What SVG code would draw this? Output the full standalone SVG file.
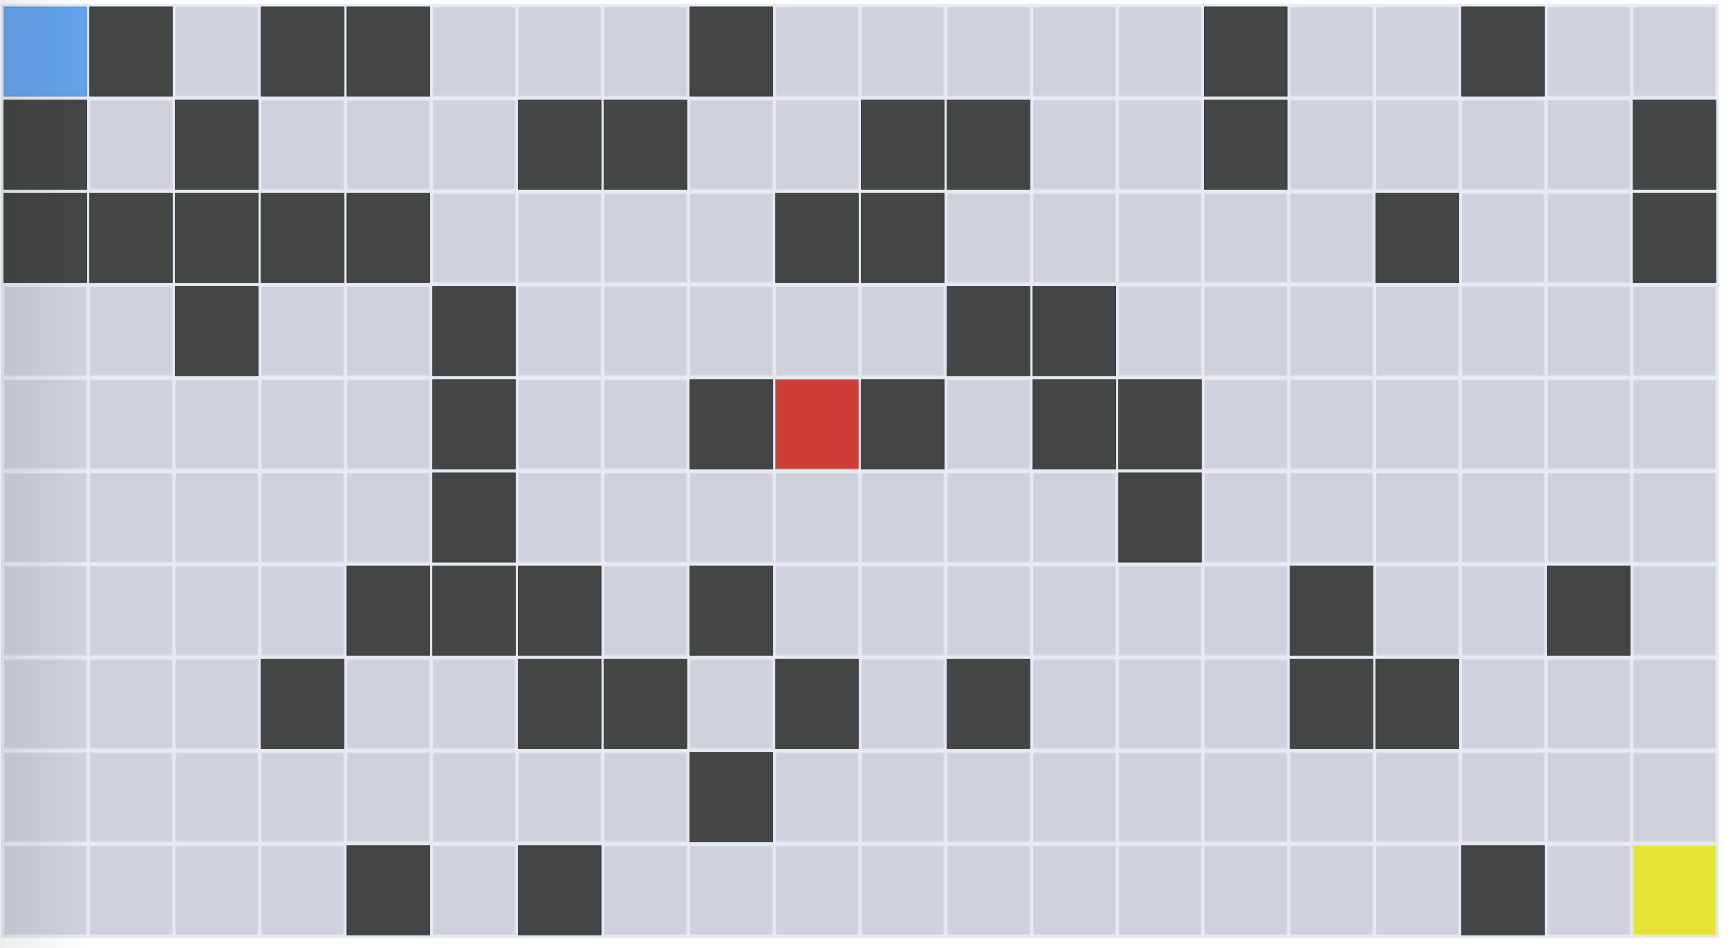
<svg xmlns="http://www.w3.org/2000/svg" width="1730" height="948" viewBox="0 0 1730 948">
<style>
.d{fill:#444645;stroke:#393b3a;stroke-width:1}
.s{fill:#64a4ec;stroke:#5a98e0;stroke-width:1}
.r{fill:#cc3d36;stroke:#d85a52;stroke-width:1}
.y{fill:#e6e336;stroke:#ebe860;stroke-width:1}
</style>
<defs>
<pattern id="cells" patternUnits="userSpaceOnUse" x="4" y="7" width="85.75" height="93.2">
<rect x="0" y="0" width="82.5" height="89" fill="#cfd2dc" stroke="#d8dde6" stroke-width="1"/>
</pattern>
<linearGradient id="shade" x1="0" y1="0" x2="1" y2="0">
<stop offset="0" stop-color="#000" stop-opacity="0.07"/>
<stop offset="1" stop-color="#000" stop-opacity="0"/>
</linearGradient>
</defs>
<rect width="1730" height="948" fill="#ffffff"/>
<rect x="1" y="4" width="1718" height="934" fill="#e4ecf4"/>
<rect x="4" y="7" width="1712" height="928" fill="url(#cells)"/>
<g id="walls">
<!-- row 0 -->
<rect class="d" x="89.75" y="7" width="82.5" height="89"/>
<rect class="d" x="261.25" y="7" width="82.5" height="89"/>
<rect class="d" x="347" y="7" width="82.5" height="89"/>
<rect class="d" x="690" y="7" width="82.5" height="89"/>
<rect class="d" x="1204.5" y="7" width="82.5" height="89"/>
<rect class="d" x="1461.75" y="7" width="82.5" height="89"/>
<!-- row 1 -->
<rect class="d" x="4" y="100.2" width="82.5" height="89"/>
<rect class="d" x="175.5" y="100.2" width="82.5" height="89"/>
<rect class="d" x="518.5" y="100.2" width="82.5" height="89"/>
<rect class="d" x="604.25" y="100.2" width="82.5" height="89"/>
<rect class="d" x="861.5" y="100.2" width="82.5" height="89"/>
<rect class="d" x="947.25" y="100.2" width="82.5" height="89"/>
<rect class="d" x="1204.5" y="100.2" width="82.5" height="89"/>
<rect class="d" x="1633.25" y="100.2" width="82.5" height="89"/>
<!-- row 2 -->
<rect class="d" x="4" y="193.4" width="82.5" height="89"/>
<rect class="d" x="89.75" y="193.4" width="82.5" height="89"/>
<rect class="d" x="175.5" y="193.4" width="82.5" height="89"/>
<rect class="d" x="261.25" y="193.4" width="82.5" height="89"/>
<rect class="d" x="347" y="193.4" width="82.5" height="89"/>
<rect class="d" x="775.75" y="193.4" width="82.5" height="89"/>
<rect class="d" x="861.5" y="193.4" width="82.5" height="89"/>
<rect class="d" x="1376" y="193.4" width="82.5" height="89"/>
<rect class="d" x="1633.25" y="193.4" width="82.5" height="89"/>
<!-- row 3 -->
<rect class="d" x="175.5" y="286.6" width="82.5" height="89"/>
<rect class="d" x="432.75" y="286.6" width="82.5" height="89"/>
<rect class="d" x="947.25" y="286.6" width="82.5" height="89"/>
<rect class="d" x="1033" y="286.6" width="82.5" height="89"/>
<!-- row 4 -->
<rect class="d" x="432.75" y="379.8" width="82.5" height="89"/>
<rect class="d" x="690" y="379.8" width="82.5" height="89"/>
<rect class="d" x="861.5" y="379.8" width="82.5" height="89"/>
<rect class="d" x="1033" y="379.8" width="82.5" height="89"/>
<rect class="d" x="1118.75" y="379.8" width="82.5" height="89"/>
<!-- row 5 -->
<rect class="d" x="432.75" y="473" width="82.5" height="89"/>
<rect class="d" x="1118.75" y="473" width="82.5" height="89"/>
<!-- row 6 -->
<rect class="d" x="347" y="566.2" width="82.5" height="89"/>
<rect class="d" x="432.75" y="566.2" width="82.5" height="89"/>
<rect class="d" x="518.5" y="566.2" width="82.5" height="89"/>
<rect class="d" x="690" y="566.2" width="82.5" height="89"/>
<rect class="d" x="1290.25" y="566.2" width="82.5" height="89"/>
<rect class="d" x="1547.5" y="566.2" width="82.5" height="89"/>
<!-- row 7 -->
<rect class="d" x="261.25" y="659.4" width="82.5" height="89"/>
<rect class="d" x="518.5" y="659.4" width="82.5" height="89"/>
<rect class="d" x="604.25" y="659.4" width="82.5" height="89"/>
<rect class="d" x="775.75" y="659.4" width="82.5" height="89"/>
<rect class="d" x="947.25" y="659.4" width="82.5" height="89"/>
<rect class="d" x="1290.25" y="659.4" width="82.5" height="89"/>
<rect class="d" x="1376" y="659.4" width="82.5" height="89"/>
<!-- row 8 -->
<rect class="d" x="690" y="752.6" width="82.5" height="89"/>
<!-- row 9 -->
<rect class="d" x="347" y="845.8" width="82.5" height="89"/>
<rect class="d" x="518.5" y="845.8" width="82.5" height="89"/>
<rect class="d" x="1461.75" y="845.8" width="82.5" height="89"/>
</g>
<g id="start"><rect class="s" x="4" y="7" width="82.5" height="89"/></g>
<g id="current"><rect class="r" x="775.75" y="379.8" width="82.5" height="89"/></g>
<g id="goal"><rect class="y" x="1633.25" y="845.8" width="82.5" height="89"/></g>
<rect x="0" y="0" width="90" height="948" fill="url(#shade)"/>
</svg>
